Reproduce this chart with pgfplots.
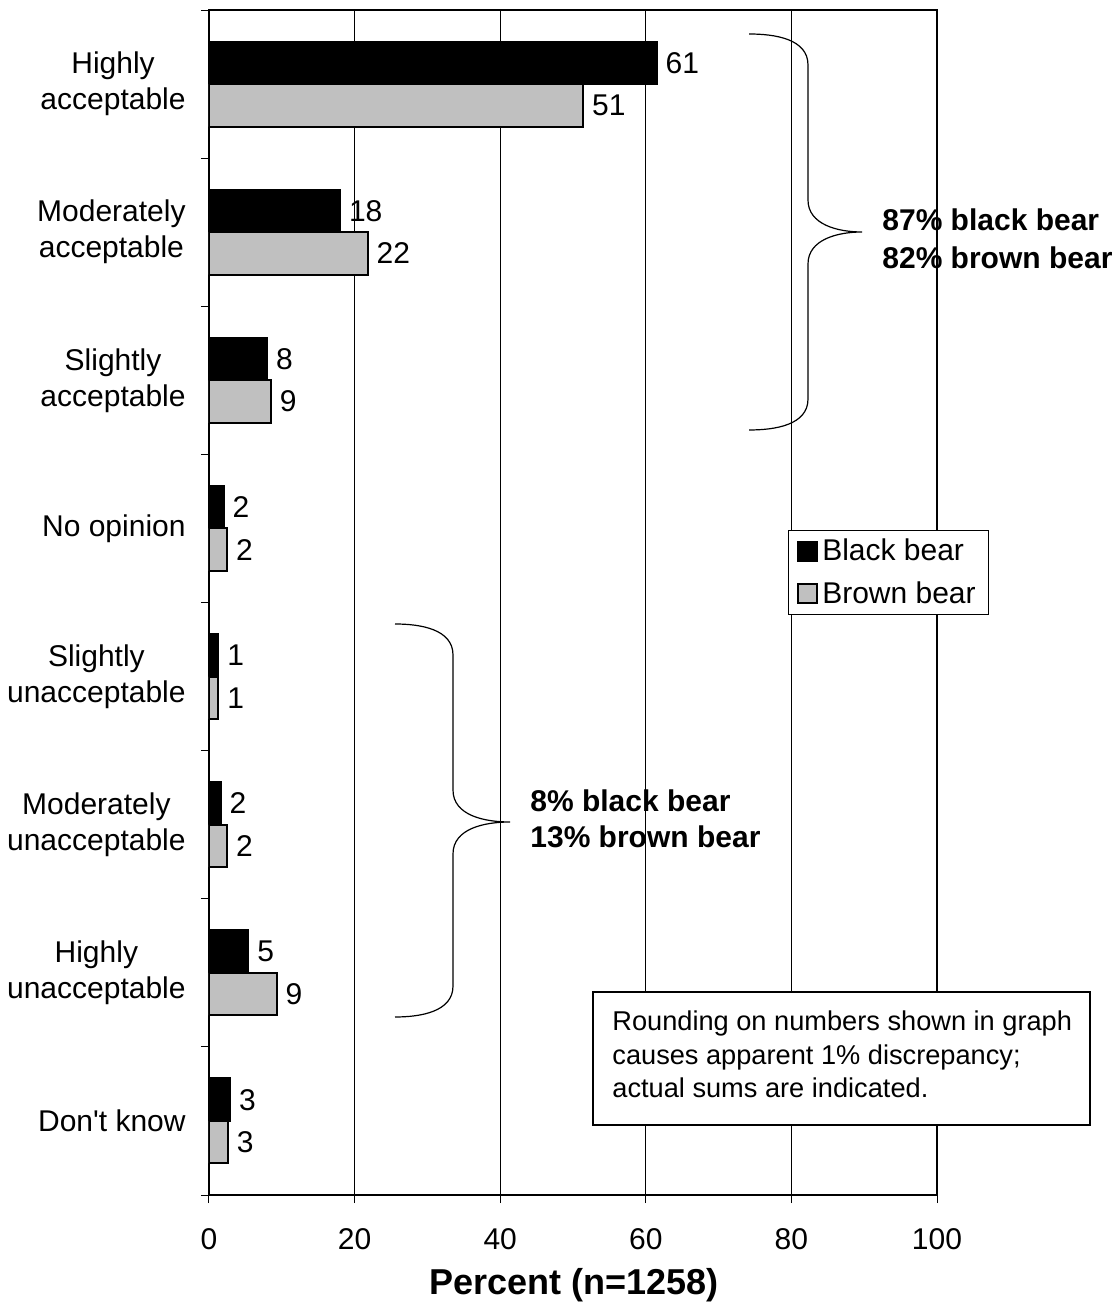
\documentclass[border=0pt]{standalone}
\usepackage{fontspec}
\setmainfont{Liberation Sans}[Ligatures=TeXOff]
\usepackage{pgfplots}
\pgfplotsset{compat=1.18}
\usepackage{pgfplotstable}

\definecolor{bargrey}{RGB}{192,192,192}
\newcommand{\lbl}{\fontsize{15}{18}\selectfont}

% category index (0 = top), bar length, printed label
\pgfplotstableread{
y x lab
0 61.5 61
1 18.0 18
2 8.0 8
3 2.0 2
4 1.3 1
5 1.6 2
6 5.4 5
7 2.9 3
}\blackbear

\pgfplotstableread{
y x lab
0 51.4 51
1 21.8 22
2 8.5 9
3 2.5 2
4 1.3 1
5 2.5 2
6 9.3 9
7 2.6 3
}\brownbear

\begin{document}
\begin{tikzpicture}
\begin{axis}[
  at={(0pt,0pt)}, anchor=south west,
  scale only axis, width=364pt, height=592.5pt,
  xbar, bar width=0.287,
  xmin=0, xmax=100, ymin=-0.5, ymax=7.5, y dir=reverse,
  axis line style={line width=1pt},
  tick align=outside,
  major tick length=4pt,
  tick style={black, line width=0.5pt},
  xtick pos=bottom, ytick pos=left,
  xtick={0,20,...,100},
  xmajorgrids, grid style={black, line width=0.5pt},
  ytick={-0.5,0.5,...,7.5}, yticklabels={},
  extra y ticks={0,1,...,7},
  extra y tick labels={{Highly\\acceptable},{Moderately\\acceptable},{Slightly\\acceptable},{No opinion},{Slightly\\unacceptable},{Moderately\\unacceptable},{Highly\\unacceptable},{Don't know}},
  extra y tick style={major tick length=0pt},
  yticklabel style={font=\lbl, align=center, inner sep=0pt, xshift=-11.5pt},
  xticklabel style={font=\lbl, inner sep=0pt, anchor=north, yshift=-12.5pt},
  /pgf/number format/assume math mode=true,
  xlabel={\textbf{Percent (n=1258)}},
  every axis x label/.style={at={(axis description cs:0.502,0)}, anchor=center, yshift=-45pt, font=\fontsize{18}{21}\selectfont},
  legend style={font=\lbl, draw=black, line width=0.5pt,
    at={(axis description cs:0.795,0.561)}, anchor=north west,
    inner xsep=4.5pt, inner ysep=3pt, row sep=7pt,
    nodes={inner xsep=2pt, inner ysep=1pt}},
  legend cell align=left,
  legend image code/.code={\path[#1] (0pt,-4.75pt) rectangle (9.5pt,4.75pt);},
  nodes near coords, point meta=explicit symbolic,
  nodes near coords style={font=\lbl, anchor=west, inner sep=0pt, xshift=4pt},
]
\addplot[bar shift=-0.1435, fill=black, draw=black, line width=1pt]
  table[x=x, y=y, meta=lab] {\blackbear};
\addlegendentry{Black bear}
\addplot[bar shift=0.1435, fill=bargrey, draw=black, line width=1pt]
  table[x=x, y=y, meta=lab] {\brownbear};
\addlegendentry{Brown bear}
\end{axis}

% braces and notes
\draw[line width=0.6pt] (270pt,580.5pt) to[out=0,in=90] (299.5pt,565pt) -- (299.5pt,497.5pt)
  to[out=-90,in=180] (326.5pt,481.5pt) to[out=180,in=90] (299.5pt,465.5pt) -- (299.5pt,398pt)
  to[out=-90,in=0] (270pt,382.5pt);
\node[anchor=west, align=left, inner sep=0pt, font=\fontsize{15}{19}\selectfont\bfseries]
  at (336.5pt,478pt) {87\% black bear\\82\% brown bear};

\draw[line width=0.6pt] (93pt,285.5pt) to[out=0,in=90] (122pt,270pt) -- (122pt,202.5pt)
  to[out=-90,in=180] (150.5pt,186.5pt) to[out=180,in=90] (122pt,170.5pt) -- (122pt,104.5pt)
  to[out=-90,in=0] (93pt,89pt);
\node[anchor=west, align=left, inner sep=0pt, font=\fontsize{15}{18}\selectfont\bfseries]
  at (160.5pt,188pt) {8\% black bear\\13\% brown bear};

\draw[fill=white, line width=0.6pt] (192pt,101.5pt) rectangle (440.5pt,35pt);
\node[anchor=west, align=left, inner sep=0pt, font=\fontsize{13.6}{16.75}\selectfont]
  at (201.5pt,70.25pt) {Rounding on numbers shown in graph\\causes apparent 1\% discrepancy;\\actual sums are indicated.};

\pgfresetboundingbox
\path[use as bounding box] (-104.5pt,-55.5pt) rectangle (454.5pt,597.5pt);
\end{tikzpicture}
\end{document}
